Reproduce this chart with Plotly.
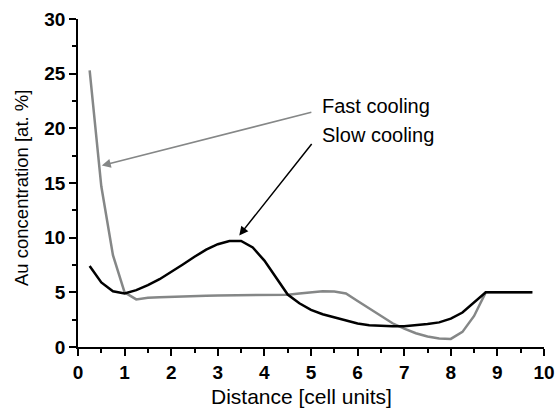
import plotly.graph_objects as go

distance = [0.25, 0.5, 0.75, 1.0, 1.25, 1.5, 1.75, 2.0, 2.25, 2.5, 2.75, 3.0, 3.25,
            3.5, 3.75, 4.0, 4.25, 4.5, 4.75, 5.0, 5.25, 5.5, 5.75, 6.0, 6.25, 6.5,
            6.75, 7.0, 7.25, 7.5, 7.75, 8.0, 8.25, 8.5, 8.75, 9.0, 9.25, 9.5, 9.75]

fast_cooling = [25.3, 14.7, 8.4, 5.0, 4.35, 4.5, 4.55, 4.6, 4.63, 4.66, 4.69, 4.71, 4.72,
                4.73, 4.74, 4.75, 4.76, 4.78, 4.9, 5.03, 5.1, 5.08, 4.9, 4.2, 3.54, 2.84,
                2.17, 1.68, 1.26, 0.96, 0.78, 0.74, 1.38, 2.84, 5.0, 5.0, 5.0, 5.0, 5.0]

slow_cooling = [7.4, 5.9, 5.1, 4.9, 5.2, 5.65, 6.2, 6.85, 7.55, 8.25, 8.9, 9.4, 9.7,
                9.7, 9.1, 7.9, 6.3, 4.8, 4.0, 3.4, 3.0, 2.7, 2.4, 2.15, 2.0, 1.93,
                1.9, 1.9, 1.98, 2.1, 2.25, 2.6, 3.15, 4.05, 5.0, 5.0, 5.0, 5.0, 5.0]

x_range = [0, 10]
y_range = [0, 30]
x_title = "Distance [cell units]"
y_title = "Au concentration [at. %]"

GRAY = "#858787"
FONT = "Liberation Sans, Arial, sans-serif"

fig = go.Figure()
fig.add_trace(go.Scatter(x=distance, y=fast_cooling, mode="lines",
                         line=dict(color=GRAY, width=2.5), name="Fast cooling"))
fig.add_trace(go.Scatter(x=distance, y=slow_cooling, mode="lines",
                         line=dict(color="black", width=2.5), name="Slow cooling"))

# arrows
fig.add_annotation(x=0.51, y=16.6, ax=5.04, ay=21.5, xref="x", yref="y",
                   axref="x", ayref="y", text="", showarrow=True,
                   arrowhead=2, arrowsize=1.2, arrowwidth=1.5, arrowcolor=GRAY)
fig.add_annotation(x=3.46, y=10.2, ax=5.04, ay=18.7, xref="x", yref="y",
                   axref="x", ayref="y", text="", showarrow=True,
                   arrowhead=2, arrowsize=1.2, arrowwidth=1.5, arrowcolor="black")
# labels
fig.add_annotation(x=5.2, y=22.0, xref="x", yref="y", text="Fast cooling",
                   showarrow=False, xanchor="left", yanchor="middle",
                   font=dict(family=FONT, size=20, color="black"))
fig.add_annotation(x=5.2, y=19.4, xref="x", yref="y", text="Slow cooling",
                   showarrow=False, xanchor="left", yanchor="middle",
                   font=dict(family=FONT, size=20, color="black"))

# axis titles
fig.add_annotation(x=0.48, y=-0.151, xref="paper", yref="paper", text=x_title,
                   showarrow=False, xanchor="center", yanchor="middle",
                   font=dict(family=FONT, size=21, color="black"))
fig.add_annotation(x=-0.12, y=0.485, xref="paper", yref="paper", text=y_title,
                   showarrow=False, xanchor="center", yanchor="middle", textangle=-90,
                   font=dict(family=FONT, size=18.5, color="black"))

axis_common = dict(
    showgrid=False, zeroline=False, showline=True, linecolor="black", linewidth=1.5,
    ticks="outside", ticklen=7, tickwidth=1.5, tickcolor="black",
    tickfont=dict(family=FONT, size=19, color="black", weight="bold"),
    automargin=False, tickmode="linear",
)

fig.update_xaxes(range=x_range, tick0=0, dtick=1,
                 minor=dict(ticks="outside", ticklen=4, tickwidth=1.5, tickcolor="black", dtick=0.5),
                 **axis_common)
fig.update_yaxes(range=y_range, tick0=0, dtick=5,
                 minor=dict(ticks="outside", ticklen=4, tickwidth=1.5, tickcolor="black", dtick=2.5),
                 **axis_common)

fig.update_layout(
    width=558, height=408,
    margin=dict(l=78, r=14, t=19, b=61),
    plot_bgcolor="white", paper_bgcolor="white",
    showlegend=False,
)

fig.write_html("out.html")
